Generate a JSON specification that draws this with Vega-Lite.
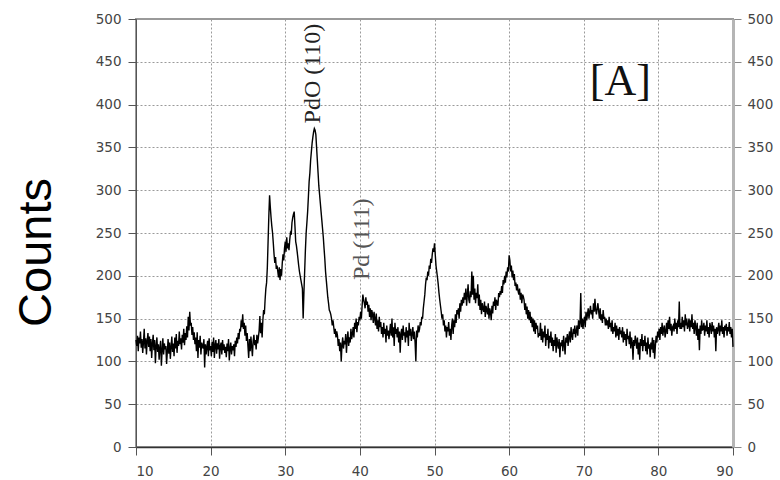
{
  "$schema": "https://vega.github.io/schema/vega-lite/v6.json",
  "autosize": {"type": "none"},
  "width": 597,
  "height": 428,
  "padding": {"left": 136, "top": 19, "right": 47, "bottom": 33},
  "background": "white",
  "config": {
    "view": {"stroke": "#9a9a9a", "strokeWidth": 2},
    "axis": {
      "labelFont": "DejaVu Sans",
      "labelFontSize": 13.5,
      "labelColor": "#444444",
      "tickColor": "#555555",
      "tickSize": 8,
      "gridColor": "#9a9a9a",
      "gridDash": [2, 2],
      "gridWidth": 1
    }
  },
  "datasets": {
    "scan": [
      {"t":10.0,"c":125},{"t":10.1,"c":118},{"t":10.2,"c":130},{"t":10.3,"c":112},{"t":10.4,"c":128},{"t":10.5,"c":121},{"t":10.6,"c":135},{"t":10.7,"c":116},{"t":10.8,"c":126},{"t":10.9,"c":110},
      {"t":11.0,"c":122},{"t":11.1,"c":138},{"t":11.2,"c":115},{"t":11.3,"c":127},{"t":11.4,"c":108},{"t":11.5,"c":124},{"t":11.6,"c":133},{"t":11.7,"c":117},{"t":11.8,"c":129},{"t":11.9,"c":112},
      {"t":12.0,"c":126},{"t":12.1,"c":104},{"t":12.2,"c":121},{"t":12.3,"c":131},{"t":12.4,"c":113},{"t":12.5,"c":125},{"t":12.6,"c":98},{"t":12.7,"c":118},{"t":12.8,"c":128},{"t":12.9,"c":111},
      {"t":13.0,"c":120},{"t":13.1,"c":102},{"t":13.2,"c":116},{"t":13.3,"c":124},{"t":13.4,"c":95},{"t":13.5,"c":113},{"t":13.6,"c":127},{"t":13.7,"c":108},{"t":13.8,"c":121},{"t":13.9,"c":114},
      {"t":14.0,"c":118},{"t":14.1,"c":97},{"t":14.2,"c":112},{"t":14.3,"c":126},{"t":14.4,"c":109},{"t":14.5,"c":122},{"t":14.6,"c":103},{"t":14.7,"c":117},{"t":14.8,"c":129},{"t":14.9,"c":111},
      {"t":15.0,"c":121},{"t":15.1,"c":106},{"t":15.2,"c":128},{"t":15.3,"c":115},{"t":15.4,"c":132},{"t":15.5,"c":110},{"t":15.6,"c":124},{"t":15.7,"c":118},{"t":15.8,"c":135},{"t":15.9,"c":120},
      {"t":16.0,"c":127},{"t":16.1,"c":114},{"t":16.2,"c":131},{"t":16.3,"c":122},{"t":16.4,"c":138},{"t":16.5,"c":119},{"t":16.6,"c":133},{"t":16.7,"c":125},{"t":16.8,"c":141},{"t":16.9,"c":128},
      {"t":17.0,"c":152},{"t":17.1,"c":136},{"t":17.2,"c":158},{"t":17.3,"c":142},{"t":17.4,"c":145},{"t":17.5,"c":131},{"t":17.6,"c":140},{"t":17.7,"c":125},{"t":17.8,"c":134},{"t":17.9,"c":120},
      {"t":18.0,"c":128},{"t":18.1,"c":112},{"t":18.2,"c":134},{"t":18.3,"c":104},{"t":18.4,"c":125},{"t":18.5,"c":116},{"t":18.6,"c":130},{"t":18.7,"c":108},{"t":18.8,"c":122},{"t":18.9,"c":118},
      {"t":19.0,"c":115},{"t":19.1,"c":126},{"t":19.2,"c":93},{"t":19.3,"c":120},{"t":19.4,"c":108},{"t":19.5,"c":117},{"t":19.6,"c":124},{"t":19.7,"c":106},{"t":19.8,"c":127},{"t":19.9,"c":113},
      {"t":20.0,"c":118},{"t":20.1,"c":106},{"t":20.2,"c":123},{"t":20.3,"c":111},{"t":20.4,"c":128},{"t":20.5,"c":104},{"t":20.6,"c":119},{"t":20.7,"c":125},{"t":20.8,"c":109},{"t":20.9,"c":121},
      {"t":21.0,"c":114},{"t":21.1,"c":126},{"t":21.2,"c":103},{"t":21.3,"c":118},{"t":21.4,"c":122},{"t":21.5,"c":108},{"t":21.6,"c":125},{"t":21.7,"c":113},{"t":21.8,"c":120},{"t":21.9,"c":110},
      {"t":22.0,"c":117},{"t":22.1,"c":105},{"t":22.2,"c":121},{"t":22.3,"c":112},{"t":22.4,"c":126},{"t":22.5,"c":101},{"t":22.6,"c":115},{"t":22.7,"c":122},{"t":22.8,"c":108},{"t":22.9,"c":118},
      {"t":23.0,"c":113},{"t":23.1,"c":120},{"t":23.2,"c":106},{"t":23.3,"c":124},{"t":23.4,"c":117},{"t":23.5,"c":128},{"t":23.6,"c":121},{"t":23.7,"c":133},{"t":23.8,"c":126},{"t":23.9,"c":138},
      {"t":24.0,"c":135},{"t":24.1,"c":148},{"t":24.2,"c":140},{"t":24.3,"c":155},{"t":24.4,"c":138},{"t":24.5,"c":145},{"t":24.6,"c":130},{"t":24.7,"c":142},{"t":24.8,"c":124},{"t":24.9,"c":133},
      {"t":25.0,"c":118},{"t":25.1,"c":104},{"t":25.2,"c":126},{"t":25.3,"c":112},{"t":25.4,"c":129},{"t":25.5,"c":117},{"t":25.6,"c":106},{"t":25.7,"c":124},{"t":25.8,"c":131},{"t":25.9,"c":119},
      {"t":26.0,"c":125},{"t":26.1,"c":114},{"t":26.2,"c":131},{"t":26.3,"c":121},{"t":26.4,"c":128},{"t":26.5,"c":136},{"t":26.6,"c":153},{"t":26.7,"c":133},{"t":26.8,"c":145},{"t":26.9,"c":128},
      {"t":27.0,"c":148},{"t":27.1,"c":160},{"t":27.2,"c":155},{"t":27.3,"c":172},{"t":27.4,"c":185},{"t":27.5,"c":192},{"t":27.6,"c":210},{"t":27.7,"c":240},{"t":27.8,"c":270},{"t":27.9,"c":294},
      {"t":28.0,"c":280},{"t":28.1,"c":268},{"t":28.2,"c":258},{"t":28.3,"c":250},{"t":28.4,"c":238},{"t":28.5,"c":225},{"t":28.6,"c":215},{"t":28.7,"c":222},{"t":28.8,"c":208},{"t":28.9,"c":212},
      {"t":29.0,"c":205},{"t":29.1,"c":198},{"t":29.2,"c":210},{"t":29.3,"c":195},{"t":29.4,"c":208},{"t":29.5,"c":200},{"t":29.6,"c":215},{"t":29.7,"c":225},{"t":29.8,"c":218},{"t":29.9,"c":232},
      {"t":30.0,"c":240},{"t":30.1,"c":228},{"t":30.2,"c":245},{"t":30.3,"c":232},{"t":30.4,"c":238},{"t":30.5,"c":230},{"t":30.6,"c":242},{"t":30.7,"c":250},{"t":30.8,"c":248},{"t":30.9,"c":262},
      {"t":31.0,"c":268},{"t":31.1,"c":272},{"t":31.2,"c":275},{"t":31.3,"c":258},{"t":31.4,"c":240},{"t":31.5,"c":235},{"t":31.6,"c":228},{"t":31.7,"c":220},{"t":31.8,"c":212},{"t":31.9,"c":205},
      {"t":32.0,"c":200},{"t":32.1,"c":195},{"t":32.2,"c":190},{"t":32.3,"c":185},{"t":32.4,"c":150},{"t":32.5,"c":180},{"t":32.6,"c":205},{"t":32.7,"c":230},{"t":32.8,"c":250},{"t":32.9,"c":262},
      {"t":33.0,"c":275},{"t":33.1,"c":292},{"t":33.2,"c":310},{"t":33.3,"c":320},{"t":33.4,"c":335},{"t":33.5,"c":345},{"t":33.6,"c":355},{"t":33.7,"c":362},{"t":33.8,"c":368},{"t":33.9,"c":372},
      {"t":34.0,"c":370},{"t":34.1,"c":365},{"t":34.2,"c":350},{"t":34.3,"c":335},{"t":34.4,"c":320},{"t":34.5,"c":305},{"t":34.6,"c":295},{"t":34.7,"c":285},{"t":34.8,"c":275},{"t":34.9,"c":265},
      {"t":35.0,"c":255},{"t":35.1,"c":245},{"t":35.2,"c":232},{"t":35.3,"c":220},{"t":35.4,"c":205},{"t":35.5,"c":195},{"t":35.6,"c":185},{"t":35.7,"c":175},{"t":35.8,"c":168},{"t":35.9,"c":160},
      {"t":36.0,"c":158},{"t":36.1,"c":155},{"t":36.2,"c":150},{"t":36.3,"c":142},{"t":36.4,"c":148},{"t":36.5,"c":140},{"t":36.6,"c":132},{"t":36.7,"c":138},{"t":36.8,"c":128},{"t":36.9,"c":135},
      {"t":37.0,"c":130},{"t":37.1,"c":118},{"t":37.2,"c":126},{"t":37.3,"c":112},{"t":37.4,"c":122},{"t":37.5,"c":100},{"t":37.6,"c":119},{"t":37.7,"c":128},{"t":37.8,"c":115},{"t":37.9,"c":124},
      {"t":38.0,"c":120},{"t":38.1,"c":132},{"t":38.2,"c":110},{"t":38.3,"c":126},{"t":38.4,"c":135},{"t":38.5,"c":118},{"t":38.6,"c":128},{"t":38.7,"c":122},{"t":38.8,"c":138},{"t":38.9,"c":126},
      {"t":39.0,"c":132},{"t":39.1,"c":140},{"t":39.2,"c":128},{"t":39.3,"c":145},{"t":39.4,"c":138},{"t":39.5,"c":150},{"t":39.6,"c":134},{"t":39.7,"c":146},{"t":39.8,"c":142},{"t":39.9,"c":152},
      {"t":40.0,"c":148},{"t":40.1,"c":158},{"t":40.2,"c":150},{"t":40.3,"c":165},{"t":40.4,"c":178},{"t":40.5,"c":172},{"t":40.6,"c":168},{"t":40.7,"c":162},{"t":40.8,"c":175},{"t":40.9,"c":166},
      {"t":41.0,"c":170},{"t":41.1,"c":158},{"t":41.2,"c":166},{"t":41.3,"c":152},{"t":41.4,"c":162},{"t":41.5,"c":148},{"t":41.6,"c":160},{"t":41.7,"c":155},{"t":41.8,"c":145},{"t":41.9,"c":158},
      {"t":42.0,"c":150},{"t":42.1,"c":142},{"t":42.2,"c":156},{"t":42.3,"c":138},{"t":42.4,"c":148},{"t":42.5,"c":135},{"t":42.6,"c":152},{"t":42.7,"c":140},{"t":42.8,"c":146},{"t":42.9,"c":132},
      {"t":43.0,"c":140},{"t":43.1,"c":128},{"t":43.2,"c":145},{"t":43.3,"c":132},{"t":43.4,"c":138},{"t":43.5,"c":122},{"t":43.6,"c":142},{"t":43.7,"c":130},{"t":43.8,"c":136},{"t":43.9,"c":126},
      {"t":44.0,"c":135},{"t":44.1,"c":144},{"t":44.2,"c":130},{"t":44.3,"c":150},{"t":44.4,"c":128},{"t":44.5,"c":140},{"t":44.6,"c":118},{"t":44.7,"c":145},{"t":44.8,"c":132},{"t":44.9,"c":138},
      {"t":45.0,"c":128},{"t":45.1,"c":140},{"t":45.2,"c":122},{"t":45.3,"c":135},{"t":45.4,"c":110},{"t":45.5,"c":132},{"t":45.6,"c":138},{"t":45.7,"c":125},{"t":45.8,"c":142},{"t":45.9,"c":130},
      {"t":46.0,"c":134},{"t":46.1,"c":122},{"t":46.2,"c":140},{"t":46.3,"c":128},{"t":46.4,"c":136},{"t":46.5,"c":118},{"t":46.6,"c":145},{"t":46.7,"c":130},{"t":46.8,"c":138},{"t":46.9,"c":124},
      {"t":47.0,"c":132},{"t":47.1,"c":140},{"t":47.2,"c":126},{"t":47.3,"c":135},{"t":47.4,"c":122},{"t":47.5,"c":100},{"t":47.6,"c":136},{"t":47.7,"c":128},{"t":47.8,"c":142},{"t":47.9,"c":134},
      {"t":48.0,"c":138},{"t":48.1,"c":146},{"t":48.2,"c":142},{"t":48.3,"c":152},{"t":48.4,"c":150},{"t":48.5,"c":162},{"t":48.6,"c":170},{"t":48.7,"c":178},{"t":48.8,"c":190},{"t":48.9,"c":198},
      {"t":49.0,"c":195},{"t":49.1,"c":205},{"t":49.2,"c":200},{"t":49.3,"c":212},{"t":49.4,"c":208},{"t":49.5,"c":220},{"t":49.6,"c":215},{"t":49.7,"c":225},{"t":49.8,"c":232},{"t":49.9,"c":228},
      {"t":50.0,"c":238},{"t":50.1,"c":225},{"t":50.2,"c":212},{"t":50.3,"c":205},{"t":50.4,"c":198},{"t":50.5,"c":190},{"t":50.6,"c":180},{"t":50.7,"c":172},{"t":50.8,"c":165},{"t":50.9,"c":158},
      {"t":51.0,"c":150},{"t":51.1,"c":155},{"t":51.2,"c":142},{"t":51.3,"c":148},{"t":51.4,"c":135},{"t":51.5,"c":142},{"t":51.6,"c":128},{"t":51.7,"c":140},{"t":51.8,"c":135},{"t":51.9,"c":146},
      {"t":52.0,"c":130},{"t":52.1,"c":138},{"t":52.2,"c":125},{"t":52.3,"c":142},{"t":52.4,"c":150},{"t":52.5,"c":132},{"t":52.6,"c":148},{"t":52.7,"c":140},{"t":52.8,"c":155},{"t":52.9,"c":145},
      {"t":53.0,"c":160},{"t":53.1,"c":155},{"t":53.2,"c":162},{"t":53.3,"c":150},{"t":53.4,"c":168},{"t":53.5,"c":158},{"t":53.6,"c":172},{"t":53.7,"c":165},{"t":53.8,"c":175},{"t":53.9,"c":168},
      {"t":54.0,"c":180},{"t":54.1,"c":172},{"t":54.2,"c":185},{"t":54.3,"c":165},{"t":54.4,"c":178},{"t":54.5,"c":190},{"t":54.6,"c":172},{"t":54.7,"c":168},{"t":54.8,"c":182},{"t":54.9,"c":175},
      {"t":55.0,"c":205},{"t":55.1,"c":178},{"t":55.2,"c":200},{"t":55.3,"c":172},{"t":55.4,"c":185},{"t":55.5,"c":168},{"t":55.6,"c":180},{"t":55.7,"c":174},{"t":55.8,"c":190},{"t":55.9,"c":165},
      {"t":56.0,"c":178},{"t":56.1,"c":160},{"t":56.2,"c":172},{"t":56.3,"c":155},{"t":56.4,"c":168},{"t":56.5,"c":162},{"t":56.6,"c":158},{"t":56.7,"c":170},{"t":56.8,"c":152},{"t":56.9,"c":165},
      {"t":57.0,"c":160},{"t":57.1,"c":155},{"t":57.2,"c":168},{"t":57.3,"c":150},{"t":57.4,"c":162},{"t":57.5,"c":158},{"t":57.6,"c":148},{"t":57.7,"c":165},{"t":57.8,"c":156},{"t":57.9,"c":170},
      {"t":58.0,"c":165},{"t":58.1,"c":175},{"t":58.2,"c":160},{"t":58.3,"c":172},{"t":58.4,"c":168},{"t":58.5,"c":165},{"t":58.6,"c":180},{"t":58.7,"c":175},{"t":58.8,"c":182},{"t":58.9,"c":178},
      {"t":59.0,"c":188},{"t":59.1,"c":180},{"t":59.2,"c":195},{"t":59.3,"c":190},{"t":59.4,"c":200},{"t":59.5,"c":192},{"t":59.6,"c":205},{"t":59.7,"c":198},{"t":59.8,"c":210},{"t":59.9,"c":205},
      {"t":60.0,"c":224},{"t":60.1,"c":218},{"t":60.2,"c":205},{"t":60.3,"c":212},{"t":60.4,"c":198},{"t":60.5,"c":206},{"t":60.6,"c":195},{"t":60.7,"c":202},{"t":60.8,"c":188},{"t":60.9,"c":192},
      {"t":61.0,"c":183},{"t":61.1,"c":190},{"t":61.2,"c":182},{"t":61.3,"c":178},{"t":61.4,"c":185},{"t":61.5,"c":172},{"t":61.6,"c":180},{"t":61.7,"c":168},{"t":61.8,"c":178},{"t":61.9,"c":176},
      {"t":62.0,"c":172},{"t":62.1,"c":160},{"t":62.2,"c":168},{"t":62.3,"c":155},{"t":62.4,"c":164},{"t":62.5,"c":150},{"t":62.6,"c":160},{"t":62.7,"c":148},{"t":62.8,"c":158},{"t":62.9,"c":145},
      {"t":63.0,"c":152},{"t":63.1,"c":140},{"t":63.2,"c":150},{"t":63.3,"c":135},{"t":63.4,"c":148},{"t":63.5,"c":132},{"t":63.6,"c":145},{"t":63.7,"c":138},{"t":63.8,"c":142},{"t":63.9,"c":128},
      {"t":64.0,"c":133},{"t":64.1,"c":130},{"t":64.2,"c":145},{"t":64.3,"c":125},{"t":64.4,"c":138},{"t":64.5,"c":122},{"t":64.6,"c":135},{"t":64.7,"c":128},{"t":64.8,"c":142},{"t":64.9,"c":118},
      {"t":65.0,"c":132},{"t":65.1,"c":125},{"t":65.2,"c":138},{"t":65.3,"c":115},{"t":65.4,"c":130},{"t":65.5,"c":122},{"t":65.6,"c":135},{"t":65.7,"c":118},{"t":65.8,"c":128},{"t":65.9,"c":112},
      {"t":66.0,"c":125},{"t":66.1,"c":118},{"t":66.2,"c":132},{"t":66.3,"c":110},{"t":66.4,"c":128},{"t":66.5,"c":120},{"t":66.6,"c":115},{"t":66.7,"c":126},{"t":66.8,"c":105},{"t":66.9,"c":122},
      {"t":67.0,"c":118},{"t":67.1,"c":125},{"t":67.2,"c":112},{"t":67.3,"c":130},{"t":67.4,"c":120},{"t":67.5,"c":108},{"t":67.6,"c":128},{"t":67.7,"c":122},{"t":67.8,"c":132},{"t":67.9,"c":118},
      {"t":68.0,"c":128},{"t":68.1,"c":135},{"t":68.2,"c":122},{"t":68.3,"c":140},{"t":68.4,"c":130},{"t":68.5,"c":125},{"t":68.6,"c":138},{"t":68.7,"c":132},{"t":68.8,"c":142},{"t":68.9,"c":128},
      {"t":69.0,"c":135},{"t":69.1,"c":142},{"t":69.2,"c":130},{"t":69.3,"c":148},{"t":69.4,"c":138},{"t":69.5,"c":145},{"t":69.6,"c":180},{"t":69.7,"c":140},{"t":69.8,"c":150},{"t":69.9,"c":138},
      {"t":70.0,"c":148},{"t":70.1,"c":152},{"t":70.2,"c":140},{"t":70.3,"c":158},{"t":70.4,"c":148},{"t":70.5,"c":155},{"t":70.6,"c":162},{"t":70.7,"c":150},{"t":70.8,"c":158},{"t":70.9,"c":165},
      {"t":71.0,"c":155},{"t":71.1,"c":160},{"t":71.2,"c":150},{"t":71.3,"c":168},{"t":71.4,"c":158},{"t":71.5,"c":173},{"t":71.6,"c":160},{"t":71.7,"c":155},{"t":71.8,"c":162},{"t":71.9,"c":168},
      {"t":72.0,"c":158},{"t":72.1,"c":150},{"t":72.2,"c":162},{"t":72.3,"c":148},{"t":72.4,"c":155},{"t":72.5,"c":145},{"t":72.6,"c":160},{"t":72.7,"c":150},{"t":72.8,"c":152},{"t":72.9,"c":142},
      {"t":73.0,"c":150},{"t":73.1,"c":142},{"t":73.2,"c":148},{"t":73.3,"c":138},{"t":73.4,"c":152},{"t":73.5,"c":140},{"t":73.6,"c":145},{"t":73.7,"c":135},{"t":73.8,"c":148},{"t":73.9,"c":132},
      {"t":74.0,"c":140},{"t":74.1,"c":135},{"t":74.2,"c":145},{"t":74.3,"c":128},{"t":74.4,"c":142},{"t":74.5,"c":130},{"t":74.6,"c":138},{"t":74.7,"c":125},{"t":74.8,"c":140},{"t":74.9,"c":132},
      {"t":75.0,"c":136},{"t":75.1,"c":128},{"t":75.2,"c":140},{"t":75.3,"c":122},{"t":75.4,"c":135},{"t":75.5,"c":125},{"t":75.6,"c":132},{"t":75.7,"c":118},{"t":75.8,"c":138},{"t":75.9,"c":126},
      {"t":76.0,"c":130},{"t":76.1,"c":120},{"t":76.2,"c":135},{"t":76.3,"c":115},{"t":76.4,"c":128},{"t":76.5,"c":122},{"t":76.6,"c":102},{"t":76.7,"c":125},{"t":76.8,"c":118},{"t":76.9,"c":130},
      {"t":77.0,"c":124},{"t":77.1,"c":115},{"t":77.2,"c":128},{"t":77.3,"c":108},{"t":77.4,"c":122},{"t":77.5,"c":102},{"t":77.6,"c":126},{"t":77.7,"c":118},{"t":77.8,"c":132},{"t":77.9,"c":112},
      {"t":78.0,"c":125},{"t":78.1,"c":118},{"t":78.2,"c":130},{"t":78.3,"c":112},{"t":78.4,"c":122},{"t":78.5,"c":108},{"t":78.6,"c":128},{"t":78.7,"c":115},{"t":78.8,"c":120},{"t":78.9,"c":105},
      {"t":79.0,"c":122},{"t":79.1,"c":114},{"t":79.2,"c":128},{"t":79.3,"c":110},{"t":79.4,"c":125},{"t":79.5,"c":103},{"t":79.6,"c":118},{"t":79.7,"c":130},{"t":79.8,"c":122},{"t":79.9,"c":135},
      {"t":80.0,"c":128},{"t":80.1,"c":138},{"t":80.2,"c":125},{"t":80.3,"c":140},{"t":80.4,"c":132},{"t":80.5,"c":145},{"t":80.6,"c":130},{"t":80.7,"c":138},{"t":80.8,"c":142},{"t":80.9,"c":128},
      {"t":81.0,"c":135},{"t":81.1,"c":145},{"t":81.2,"c":132},{"t":81.3,"c":148},{"t":81.4,"c":138},{"t":81.5,"c":152},{"t":81.6,"c":136},{"t":81.7,"c":144},{"t":81.8,"c":130},{"t":81.9,"c":140},
      {"t":82.0,"c":142},{"t":82.1,"c":135},{"t":82.2,"c":150},{"t":82.3,"c":138},{"t":82.4,"c":145},{"t":82.5,"c":132},{"t":82.6,"c":148},{"t":82.7,"c":140},{"t":82.8,"c":170},{"t":82.9,"c":138},
      {"t":83.0,"c":145},{"t":83.1,"c":138},{"t":83.2,"c":152},{"t":83.3,"c":140},{"t":83.4,"c":148},{"t":83.5,"c":135},{"t":83.6,"c":155},{"t":83.7,"c":142},{"t":83.8,"c":150},{"t":83.9,"c":138},
      {"t":84.0,"c":142},{"t":84.1,"c":150},{"t":84.2,"c":135},{"t":84.3,"c":148},{"t":84.4,"c":140},{"t":84.5,"c":155},{"t":84.6,"c":138},{"t":84.7,"c":145},{"t":84.8,"c":132},{"t":84.9,"c":148},
      {"t":85.0,"c":140},{"t":85.1,"c":130},{"t":85.2,"c":145},{"t":85.3,"c":125},{"t":85.4,"c":138},{"t":85.5,"c":113},{"t":85.6,"c":142},{"t":85.7,"c":132},{"t":85.8,"c":148},{"t":85.9,"c":136},
      {"t":86.0,"c":138},{"t":86.1,"c":145},{"t":86.2,"c":130},{"t":86.3,"c":142},{"t":86.4,"c":135},{"t":86.5,"c":148},{"t":86.6,"c":132},{"t":86.7,"c":140},{"t":86.8,"c":128},{"t":86.9,"c":145},
      {"t":87.0,"c":140},{"t":87.1,"c":132},{"t":87.2,"c":146},{"t":87.3,"c":135},{"t":87.4,"c":142},{"t":87.5,"c":128},{"t":87.6,"c":138},{"t":87.7,"c":112},{"t":87.8,"c":140},{"t":87.9,"c":132},
      {"t":88.0,"c":138},{"t":88.1,"c":145},{"t":88.2,"c":130},{"t":88.3,"c":142},{"t":88.4,"c":135},{"t":88.5,"c":148},{"t":88.6,"c":132},{"t":88.7,"c":140},{"t":88.8,"c":128},{"t":88.9,"c":142},
      {"t":89.0,"c":136},{"t":89.1,"c":144},{"t":89.2,"c":130},{"t":89.3,"c":140},{"t":89.4,"c":135},{"t":89.5,"c":146},{"t":89.6,"c":132},{"t":89.7,"c":140},{"t":89.8,"c":128},{"t":89.9,"c":138},
      {"t":90.0,"c":117}
    ]
  },
  "layer": [
    {
      "data": {"name": "scan"},
      "mark": {"type": "line", "color": "#000000", "strokeWidth": 1.4},
      "encoding": {
        "x": {
          "field": "t",
          "type": "quantitative",
          "scale": {"domain": [10, 90], "nice": false},
          "axis": {
            "title": null,
            "values": [10, 20, 30, 40, 50, 60, 70, 80, 90],
            "grid": true,
            "domainColor": "#333333",
            "domainWidth": 1.5,
            "labelPadding": 9
          }
        },
        "y": {
          "field": "c",
          "type": "quantitative",
          "scale": {"domain": [0, 500], "nice": false},
          "axis": {
            "orient": "left",
            "values": [0, 50, 100, 150, 200, 250, 300, 350, 400, 450, 500],
            "grid": true,
            "domainColor": "#555555",
            "labelPadding": 7,
            "title": "Counts",
            "titleFont": "Liberation Sans",
            "titleFontSize": 47,
            "titleFontWeight": "normal",
            "titleColor": "#000000",
            "titleAngle": -90,
            "titleAlign": "center",
            "titleBaseline": "alphabetic",
            "titleX": -86,
            "titleY": 233
          }
        }
      }
    },
    {
      "data": {"name": "scan"},
      "mark": {"type": "line", "opacity": 0},
      "encoding": {
        "x": {"field": "t", "type": "quantitative"},
        "y": {
          "field": "c",
          "type": "quantitative",
          "axis": {
            "orient": "right",
            "values": [0, 50, 100, 150, 200, 250, 300, 350, 400, 450, 500],
            "grid": false,
            "title": null,
            "domainColor": "#b5b5b5",
            "domainWidth": 3,
            "tickColor": "#888888",
            "labelPadding": 6
          }
        }
      }
    },
    {
      "data": {"values": [{"label": "PdO (110)", "t": 33.72, "c": 378}]},
      "mark": {"type": "text", "angle": -90, "align": "left", "baseline": "middle", "font": "Liberation Serif", "fontSize": 24, "color": "#222222"},
      "encoding": {
        "x": {"field": "t", "type": "quantitative"},
        "y": {"field": "c", "type": "quantitative", "axis": null},
        "text": {"field": "label"}
      }
    },
    {
      "data": {"values": [{"label": "Pd (111)", "t": 40.28, "c": 195}]},
      "mark": {"type": "text", "angle": -90, "align": "left", "baseline": "middle", "font": "Liberation Serif", "fontSize": 24, "color": "#555555"},
      "encoding": {
        "x": {"field": "t", "type": "quantitative"},
        "y": {"field": "c", "type": "quantitative", "axis": null},
        "text": {"field": "label"}
      }
    },
    {
      "data": {"values": [{"label": "[A]", "t": 74.9, "c": 426}]},
      "mark": {"type": "text", "align": "center", "baseline": "middle", "font": "Liberation Serif", "fontSize": 44, "color": "#111111"},
      "encoding": {
        "x": {"field": "t", "type": "quantitative"},
        "y": {"field": "c", "type": "quantitative", "axis": null},
        "text": {"field": "label"}
      }
    }
  ],
  "resolve": {"axis": {"y": "independent"}}
}
